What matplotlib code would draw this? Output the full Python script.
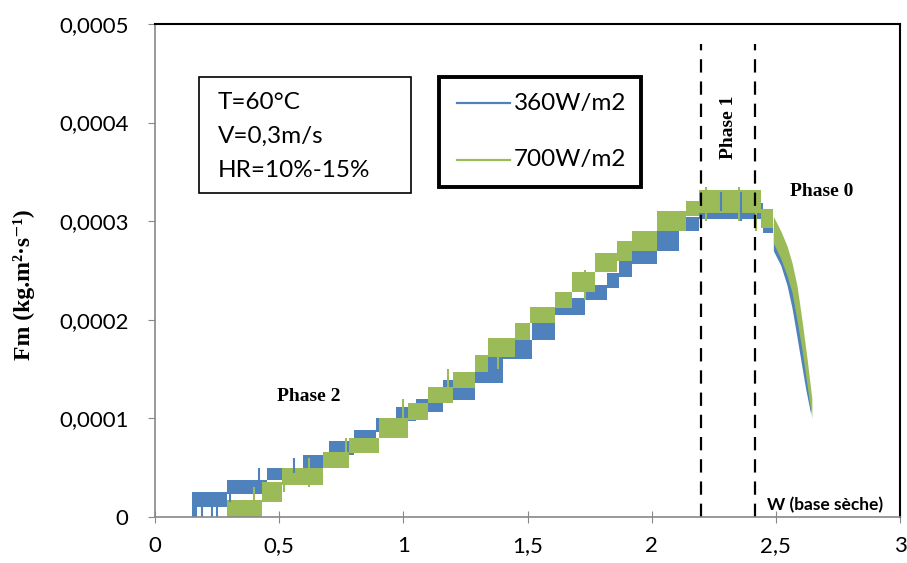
import matplotlib.pyplot as plt
from matplotlib.lines import Line2D
from matplotlib.patches import Rectangle

# paliers (début x, bas, haut) - 360W/m2
x_360 = [0.15, 0.17, 0.29, 0.45, 0.595, 0.70, 0.80, 0.89, 0.97, 1.05, 1.16, 1.29, 1.40,
         1.52, 1.61, 1.73, 1.82, 1.87, 1.92, 2.02, 2.11, 2.19, 2.45, 2.49]
lo_360 = [0.0, 0.000010, 0.000023, 0.0000375, 0.00005, 0.000063, 0.000074, 0.000086, 0.000097,
          0.000106, 0.000119, 0.000136, 0.00016, 0.00018, 0.000205, 0.00022, 0.000232, 0.000243,
          0.000257, 0.00027, 0.00029, 0.000302, 0.000288, 0.000288]
hi_360 = [0.000025, 0.000025, 0.0000375, 0.00005, 0.000063, 0.000077, 0.000088, 0.0001, 0.000112,
          0.00012, 0.000139, 0.000162, 0.00018, 0.000207, 0.000222, 0.000235, 0.000247, 0.00026,
          0.00027, 0.00029, 0.000304, 0.000318, 0.000312, 0.000312]

# paliers - 700W/m2
x_700 = [0.29, 0.43, 0.51, 0.675, 0.78, 0.90, 1.02, 1.10, 1.20, 1.29, 1.34, 1.45, 1.51,
         1.61, 1.68, 1.77, 1.86, 1.92, 2.02, 2.14, 2.19, 2.44, 2.49]
lo_700 = [0.0, 0.000015, 0.000032, 0.00005, 0.000065, 0.00008, 0.000098, 0.000116, 0.000131,
          0.000147, 0.000162, 0.00018, 0.000197, 0.000212, 0.000228, 0.000248, 0.00026, 0.00027,
          0.00029, 0.000305, 0.000308, 0.000293, 0.000293]
hi_700 = [0.000017, 0.000035, 0.00005, 0.000066, 0.00008, 0.0001, 0.000116, 0.000132, 0.000147,
          0.000164, 0.000182, 0.000197, 0.000213, 0.000228, 0.000248, 0.000268, 0.00028, 0.00029,
          0.00031, 0.00032, 0.000332, 0.000312, 0.000312]

# phase 0 (chute)
xt_360 = [2.49, 2.52, 2.545, 2.565, 2.58, 2.60, 2.62, 2.64]
lot_360 = [0.00027, 0.000255, 0.000235, 0.000212, 0.00019, 0.00016, 0.00013, 0.000105]
hit_360 = [0.000298, 0.000283, 0.000268, 0.000248, 0.000225, 0.00019, 0.00016, 0.00012]
xt_700 = [2.49, 2.52, 2.545, 2.565, 2.585, 2.605, 2.625, 2.645]
lot_700 = [0.000278, 0.000262, 0.000245, 0.000228, 0.0002, 0.00017, 0.000135, 0.0001]
hit_700 = [0.000305, 0.00029, 0.000275, 0.000258, 0.000235, 0.0002, 0.000162, 0.00012]

# pics de bruit
spk_x_360 = [0.165, 0.19, 0.23, 0.25, 0.30, 0.42, 0.56, 2.28, 2.36]
spk_lo_360 = [0.0, 0.0, 0.0, 0.0, 0.000015, 0.00003, 0.000045, 0.00031, 0.0003]
spk_hi_360 = [0.00002, 0.00002, 0.00002, 0.00002, 0.000035, 0.00005, 0.00006, 0.00033, 0.00033]
spk_x_700 = [0.40, 0.52, 0.62, 0.77, 1.0, 1.18, 1.38, 1.73, 2.05, 2.22, 2.35, 2.42]
spk_lo_700 = [0.0, 0.000025, 0.00003, 0.00006, 0.00009, 0.00012, 0.00015, 0.00022, 0.00029,
              0.0003, 0.0003, 0.00029]
spk_hi_700 = [0.00003, 0.00005, 0.00006, 0.00008, 0.00012, 0.00015, 0.00018, 0.00025, 0.00031,
              0.000335, 0.000335, 0.00033]

phase_limits = [2.197, 2.415]
x_ticks = [0, 0.5, 1, 1.5, 2, 2.5, 3]
x_labels = ['0', '0,5', '1', '1,5', '2', '2,5', '3']
y_ticks = [0, 0.0001, 0.0002, 0.0003, 0.0004, 0.0005]
y_labels = ['0', '0,0001', '0,0002', '0,0003', '0,0004', '0,0005']
series_names = ['360W/m2', '700W/m2']

c_360 = '#4F81BD'
c_700 = '#9BBB59'
lab_font = 'Lato'
serif = ['Liberation Serif', 'DejaVu Serif']

fig = plt.figure(figsize=(9.07, 5.63), dpi=100)
ax = fig.add_axes([0.1709, 0.0817, 0.8214, 0.8757])

ax.fill_between(x_360, lo_360, hi_360, step='post', color=c_360, lw=0)
ax.fill_between(xt_360, lot_360, hit_360, color=c_360, lw=0)
ax.vlines(spk_x_360, spk_lo_360, spk_hi_360, color=c_360, lw=1.5)
ax.fill_between(x_700, lo_700, hi_700, step='post', color=c_700, lw=0)
ax.fill_between(xt_700, lot_700, hit_700, color=c_700, lw=0)
ax.vlines(spk_x_700, spk_lo_700, spk_hi_700, color=c_700, lw=1.5)

for xv in phase_limits:
    ax.plot([xv, xv], [0, 0.00048], color='black', lw=1.6, ls=(0, (6, 4)))

ax.set_xlim(0, 3)
ax.set_ylim(0, 0.0005)
ax.set_xticks(x_ticks)
ax.set_xticklabels(x_labels, fontfamily=lab_font, fontsize=16)
ax.set_yticks(y_ticks)
ax.set_yticklabels(y_labels, fontfamily=lab_font, fontsize=16)
ax.tick_params(axis='x', direction='inout', length=8, color='#888888', pad=10)
ax.tick_params(axis='y', direction='out', length=5, color='#888888', pad=14)

for s in ['left', 'bottom']:
    ax.spines[s].set_color('#888888')
    ax.spines[s].set_linewidth(1.2)
for s in ['top', 'right']:
    ax.spines[s].set_color('black')
    ax.spines[s].set_linewidth(1.5)

fig.text(0.026, 0.494, 'Fm (kg.m²·s⁻¹)', family=serif, fontweight='bold',
         fontsize=17, rotation=90, ha='center', va='center')

ax.text(0.62, 0.000122, 'Phase 2', family=serif, fontweight='bold',
        fontsize=14, ha='center', va='center')
ax.text(2.31, 0.000395, 'Phase 1', family=serif, fontweight='bold',
        fontsize=14, rotation=90, ha='center', va='center')
ax.text(2.555, 0.00033, 'Phase 0', family=serif, fontweight='bold',
        fontsize=14, ha='left', va='center')
ax.text(2.465, 0.000004, 'W (base sèche)', fontfamily=lab_font, fontweight='bold',
        fontsize=12.5, ha='left', va='bottom')

# boîte des conditions
ax.add_patch(Rectangle((0.0589, 0.657), 0.2851, 0.2355, transform=ax.transAxes,
                       fc='white', ec='black', lw=1.2))
ax.text(0.084, 0.772, 'T=60°C\nV=0,3m/s\nHR=10%-15%', transform=ax.transAxes,
        fontfamily=lab_font, fontsize=17.5, ha='left', va='center', linespacing=1.75)

# légende
ax.add_patch(Rectangle((0.3815, 0.6694), 0.2705, 0.2231, transform=ax.transAxes,
                       fc='white', ec='black', lw=2.8))
for i, (name, col) in enumerate(zip(series_names, [c_360, c_700])):
    yy = 0.839 - i * 0.114
    ax.add_line(Line2D([0.4055, 0.4765], [yy, yy], transform=ax.transAxes, color=col, lw=1.6))
    ax.text(0.482, yy, name, transform=ax.transAxes, fontfamily=lab_font, fontsize=17.5,
            ha='left', va='center')

fig.savefig('out.png', dpi=100)
